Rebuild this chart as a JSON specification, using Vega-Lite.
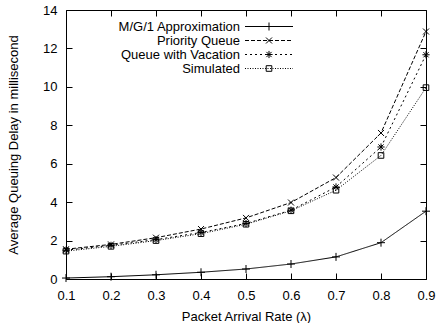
{
  "$schema": "https://vega.github.io/schema/vega-lite/v6.json",
  "width": 360,
  "height": 269,
  "autosize": "none",
  "padding": {"left": 66, "top": 10, "right": 13, "bottom": 44},
  "background": "white",
  "config": {
    "view": {"stroke": "black", "strokeWidth": 1},
    "font": "Liberation Sans",
    "axis": {
      "labelFont": "Liberation Sans",
      "titleFont": "Liberation Sans",
      "labelFontSize": 13,
      "titleFontSize": 13,
      "titleFontWeight": "normal",
      "labelColor": "black",
      "titleColor": "black",
      "tickColor": "black",
      "domainColor": "black",
      "tickSize": -6,
      "labelFlush": false,
      "grid": false,
      "domain": false
    }
  },
  "data": {
    "values": [
      {"rate": 0.1, "series": "M/G/1 Approximation", "delay": 0.05},
      {"rate": 0.2, "series": "M/G/1 Approximation", "delay": 0.12},
      {"rate": 0.3, "series": "M/G/1 Approximation", "delay": 0.22},
      {"rate": 0.4, "series": "M/G/1 Approximation", "delay": 0.35},
      {"rate": 0.5, "series": "M/G/1 Approximation", "delay": 0.52},
      {"rate": 0.6, "series": "M/G/1 Approximation", "delay": 0.78},
      {"rate": 0.7, "series": "M/G/1 Approximation", "delay": 1.15},
      {"rate": 0.8, "series": "M/G/1 Approximation", "delay": 1.89},
      {"rate": 0.9, "series": "M/G/1 Approximation", "delay": 3.53},
      {"rate": 0.1, "series": "Priority Queue", "delay": 1.55},
      {"rate": 0.2, "series": "Priority Queue", "delay": 1.8},
      {"rate": 0.3, "series": "Priority Queue", "delay": 2.15},
      {"rate": 0.4, "series": "Priority Queue", "delay": 2.6},
      {"rate": 0.5, "series": "Priority Queue", "delay": 3.18},
      {"rate": 0.6, "series": "Priority Queue", "delay": 3.98},
      {"rate": 0.7, "series": "Priority Queue", "delay": 5.28},
      {"rate": 0.8, "series": "Priority Queue", "delay": 7.6},
      {"rate": 0.9, "series": "Priority Queue", "delay": 12.88},
      {"rate": 0.1, "series": "Queue with Vacation", "delay": 1.5},
      {"rate": 0.2, "series": "Queue with Vacation", "delay": 1.75},
      {"rate": 0.3, "series": "Queue with Vacation", "delay": 2.05},
      {"rate": 0.4, "series": "Queue with Vacation", "delay": 2.42},
      {"rate": 0.5, "series": "Queue with Vacation", "delay": 2.89},
      {"rate": 0.6, "series": "Queue with Vacation", "delay": 3.58},
      {"rate": 0.7, "series": "Queue with Vacation", "delay": 4.79},
      {"rate": 0.8, "series": "Queue with Vacation", "delay": 6.87},
      {"rate": 0.9, "series": "Queue with Vacation", "delay": 11.67},
      {"rate": 0.1, "series": "Simulated", "delay": 1.45},
      {"rate": 0.2, "series": "Simulated", "delay": 1.7},
      {"rate": 0.3, "series": "Simulated", "delay": 2.0},
      {"rate": 0.4, "series": "Simulated", "delay": 2.36},
      {"rate": 0.5, "series": "Simulated", "delay": 2.85},
      {"rate": 0.6, "series": "Simulated", "delay": 3.55},
      {"rate": 0.7, "series": "Simulated", "delay": 4.62},
      {"rate": 0.8, "series": "Simulated", "delay": 6.43},
      {"rate": 0.9, "series": "Simulated", "delay": 9.96}
    ]
  },
  "layer": [
    {
      "mark": {"type": "line", "color": "black", "strokeWidth": 1},
      "encoding": {
        "x": {
          "field": "rate", "type": "quantitative",
          "scale": {"domain": [0.1, 0.9], "nice": false, "zero": false},
          "axis": {
            "orient": "bottom",
            "values": [0.1, 0.2, 0.3, 0.4, 0.5, 0.6, 0.7, 0.8, 0.9],
            "format": ".1f",
            "labelPadding": 16,
            "title": "Packet Arrival Rate (λ)",
            "titleBaseline": "alphabetic",
            "titleY": 41
          }
        },
        "y": {
          "field": "delay", "type": "quantitative",
          "scale": {"domain": [0, 14], "nice": false},
          "axis": {
            "orient": "left",
            "values": [0, 2, 4, 6, 8, 10, 12, 14],
            "format": "d",
            "labelPadding": 15,
            "title": "Average Queuing Delay in millisecond",
            "titleBaseline": "alphabetic",
            "titleX": -49,
            "titleY": 134.5,
            "titleAngle": 270
          }
        },
        "strokeDash": {
          "field": "series", "type": "nominal",
          "scale": {
            "domain": ["M/G/1 Approximation", "Priority Queue", "Queue with Vacation", "Simulated"],
            "range": [[1, 0], [4, 2], [2, 3], [1, 1.5]]
          },
          "legend": {
            "title": null,
            "orient": "none",
            "legendX": 196.5,
            "legendY": 10,
            "rowPadding": -1,
            "symbolType": "M-6,0H6",
            "symbolSize": 64,
            "symbolStrokeWidth": 1,
            "symbolStrokeColor": "black",
            "labelAlign": "right",
            "labelOffset": -35.5,
            "labelFont": "Liberation Sans",
            "labelFontSize": 13,
            "labelColor": "black",
            "labelLimit": 0
          }
        }
      }
    },
    {
      "mark": {"type": "point", "filled": false, "color": "black", "strokeWidth": 1, "size": 64, "opacity": 1},
      "encoding": {
        "x": {
          "field": "rate", "type": "quantitative",
          "axis": {
            "orient": "top",
            "values": [0.1, 0.2, 0.3, 0.4, 0.5, 0.6, 0.7, 0.8, 0.9],
            "labels": false,
            "title": null
          }
        },
        "y": {
          "field": "delay", "type": "quantitative",
          "axis": {
            "orient": "right",
            "values": [0, 2, 4, 6, 8, 10, 12, 14],
            "labels": false,
            "title": null
          }
        },
        "shape": {
          "field": "series", "type": "nominal",
          "scale": {
            "range": [
              "M-1,0H1M0,-1V1",
              "M-0.75,-0.75L0.75,0.75M-0.75,0.75L0.75,-0.75",
              "M-0.9,0H0.9M0,-0.9V0.9M-0.65,-0.65L0.65,0.65M-0.65,0.65L0.65,-0.65",
              "M-0.7,-0.7H0.7V0.7H-0.7Z"
            ]
          },
          "legend": {
            "title": null,
            "orient": "none",
            "legendX": 196.5,
            "legendY": 10,
            "rowPadding": -1,
            "symbolSize": 64,
            "symbolStrokeWidth": 1,
            "symbolStrokeColor": "black",
            "symbolFillColor": "white",
            "labelFontSize": 13,
            "labelOpacity": 0
          }
        }
      }
    }
  ]
}
